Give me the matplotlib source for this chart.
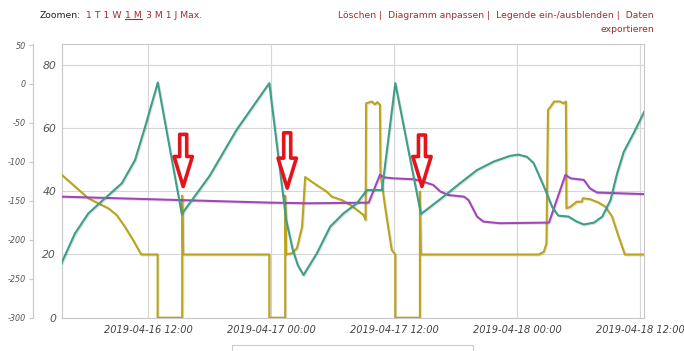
import matplotlib
matplotlib.use("Agg")
import matplotlib.pyplot as plt
import matplotlib.patheffects as pe
from matplotlib.patches import Rectangle
from matplotlib.lines import Line2D

# ---- data (x in hours after 2019-04-16 00:00) ----
teal_h = [3.54, 4.84, 6.14, 7.77, 9.4, 10.7, 11.68, 12.92, 15.26, 18.0, 20.6, 23.8,
          25.45, 26.1, 26.6, 27.14, 28.45, 29.74, 31.04, 32.35, 33.33, 34.8, 36.1, 38.6,
          40.8, 42.4, 44.07, 45.7, 47.3, 48.1, 48.95, 49.6, 50.6, 51.4, 52.0, 53.0,
          53.8, 54.5, 55.5, 56.3, 57.1, 57.75, 58.4, 59.36, 60.4]
teal_v = [17.4, 26.7, 33.0, 37.8, 42.5, 49.9, 60.4, 74.4, 32.8, 45.0, 59.4, 74.2,
          30.9, 21.4, 16.5, 13.5, 20.4, 28.8, 33.0, 36.2, 40.4, 40.4, 74.2, 32.8,
          38.3, 42.5, 46.7, 49.4, 51.2, 51.6, 50.9, 48.9, 41.5, 35.1, 32.3, 32.0,
          30.4, 29.5, 30.1, 32.0, 37.2, 45.7, 52.5, 58.4, 65.2]

purple_h = [3.54, 18.5, 23.9, 27.8, 33.2, 33.5, 34.6, 35.0, 35.9, 37.9, 38.85, 39.8,
            40.5, 41.3, 42.8, 43.25, 44.07, 44.7, 46.3, 51.1, 52.7, 53.2, 54.5, 55.1,
            55.8, 60.4]
purple_v = [38.3, 36.9, 36.4, 36.2, 36.4, 36.4, 45.2, 44.4, 44.1, 43.8, 43.0, 42.0,
            39.9, 38.8, 38.3, 37.2, 32.0, 30.4, 29.9, 30.1, 45.2, 44.1, 43.6, 40.9,
            39.6, 39.1]

gold_h = [3.54, 4.84, 6.14, 7.1, 8.1, 8.9, 9.7, 10.5, 11.3, 12.9, 12.9, 15.3, 15.3,
          15.4, 23.8, 23.8, 25.35, 25.35, 25.45, 26.0, 26.5, 27.0, 27.3, 28.4, 29.4,
          29.9, 30.9, 31.7, 33.0, 33.2, 33.25, 33.8, 34.1, 34.35, 34.6, 34.65, 35.1,
          35.75, 36.1, 36.1, 38.5, 38.5, 38.6, 50.1, 50.6, 50.85, 51.0, 51.3, 51.6,
          52.2, 52.5, 52.75, 52.8, 53.2, 53.8, 54.3, 54.4, 55.1, 55.9, 56.6, 57.25,
          57.9, 58.5, 60.4]
gold_v = [45.2, 41.5, 37.8, 36.2, 34.6, 32.5, 28.8, 24.6, 20.0, 20.0, 0.0, 0.0, 38.6,
          20.0, 20.0, 0.0, 0.0, 38.6, 20.0, 20.4, 22.0, 28.8, 44.5, 42.0, 39.9,
          38.3, 37.2, 35.7, 32.5, 30.9, 67.8, 68.4, 67.5, 68.2, 67.3, 45.7, 35.1,
          21.4, 20.0, 0.0, 0.0, 39.9, 20.0, 20.0, 20.9, 23.5, 65.7, 67.0, 68.4,
          68.4, 67.8, 68.4, 34.6, 35.1, 36.7, 36.7, 37.8, 37.5, 36.5, 35.1, 32.0,
          25.6, 20.0, 20.0]

arrow_h = [15.4, 25.55, 38.7]
arrow_tip = [41.5, 41.0, 41.5]
arrow_top = [58.0, 58.5, 57.8]

x_ticks = [12, 24, 36, 48, 60]
x_labels = ["2019-04-16 12:00", "2019-04-17 00:00", "2019-04-17 12:00",
            "2019-04-18 00:00", "2019-04-18 12:00"]
y_ticks = [0, 20, 40, 60, 80]
y2_ticks = [50, 0, -50, -100, -150, -200, -250, -300]

zoom_parts = ["1 T 1 W", "1 M", "3 M 1 J Max."]

# ---- figure ----
W, H = 684, 351
fig = plt.figure(figsize=(W / 100, H / 100), dpi=100)
fig.patch.set_facecolor("white")

def fx(px):
    return px / W

def fy(py):
    return 1 - py / H

L, R, T, B = 61.7, 644.3, 44.3, 317.7
ax = fig.add_axes([fx(L), fy(B), fx(R - L), fy(T) - fy(B)])
ax.set_xlim(3.54, 60.4)
ax.set_ylim(0, 86.5)

grid_c = "#d6d6d6"
for s in ax.spines.values():
    s.set_color("#c8c8c8")
    s.set_linewidth(0.8)
ax.set_xticks(x_ticks)
ax.set_xticklabels(x_labels, fontsize=7.1, style="italic", color="#444444")
ax.set_yticks(y_ticks)
ax.set_yticklabels([str(v) for v in y_ticks], fontsize=7.8, style="italic", color="#555555")
ax.tick_params(axis="both", length=0, pad=4)
ax.tick_params(axis="x", pad=5)
ax.grid(True, color=grid_c, linewidth=0.8)
ax.set_axisbelow(True)

shadow = [pe.SimpleLineShadow(offset=(0.7, -0.7), alpha=0.12, shadow_color="#000000"), pe.Normal()]
ax.plot(gold_h, gold_v, color="#bca41c", lw=1.5, path_effects=shadow, zorder=3)
ax.plot(purple_h, purple_v, color="#a346b8", lw=1.5, path_effects=shadow, zorder=4)
ax.plot(teal_h, teal_v, color="#3d9e8a", lw=1.5, path_effects=shadow, zorder=5)

for h, tip, top in zip(arrow_h, arrow_tip, arrow_top):
    ax.annotate("", xy=(h, tip), xytext=(h, top),
                arrowprops=dict(arrowstyle="simple,head_length=1.8,head_width=1.1,tail_width=0.42",
                                fc="white", ec="#e4141c", lw=2.6, mutation_scale=12,
                                shrinkA=0, shrinkB=0),
                zorder=6)

# outer y axis
ax2 = ax.twinx()
ax2.set_ylim(-300, 50.9)
ax2.yaxis.set_ticks_position("left")
ax2.yaxis.set_label_position("left")
ax2.spines["left"].set_position(("axes", (32.7 - L) / (R - L)))
ax2.spines["left"].set_color("#c8c8c8")
ax2.spines["left"].set_linewidth(0.8)
for k in ("right", "top", "bottom"):
    ax2.spines[k].set_visible(False)
ax2.set_yticks(y2_ticks)
ax2.set_yticklabels([str(v) for v in y2_ticks], fontsize=5.8, style="italic", color="#555555")
ax2.tick_params(axis="y", length=3, color="#c8c8c8", pad=2)

# header
link = "#a52a2a"
fs = 6.7
fig.text(fx(40), fy(15), "Zoomen:", fontsize=fs, color="#222222", va="center")
fig.canvas.draw()
xpos = 85.6
texts = []
for part in zoom_parts:
    t = fig.text(fx(xpos), fy(15), part, fontsize=fs, color=link, va="center")
    fig.canvas.draw()
    bb = t.get_window_extent()
    texts.append(bb)
    xpos = bb.x1 + 4
bb = texts[1]
fig.add_artist(Line2D([bb.x0 / W, bb.x1 / W], [(bb.y0 + 0.3) / H] * 2,
                      color=link, lw=0.8, transform=fig.transFigure))
fig.text(fx(654), fy(15), "Löschen |  Diagramm anpassen |  Legende ein-/ausblenden |  Daten",
         fontsize=fs, color=link, va="center", ha="right")
fig.text(fx(654), fy(30), "exportieren", fontsize=fs, color=link, va="center", ha="right")

# partially visible legend box
fig.add_artist(Rectangle((fx(232), fy(352)), fx(473 - 232), fy(345) - fy(352),
                         transform=fig.transFigure, fill=False, ec="#cccccc", lw=0.8))

fig.savefig("out.png", dpi=100)
